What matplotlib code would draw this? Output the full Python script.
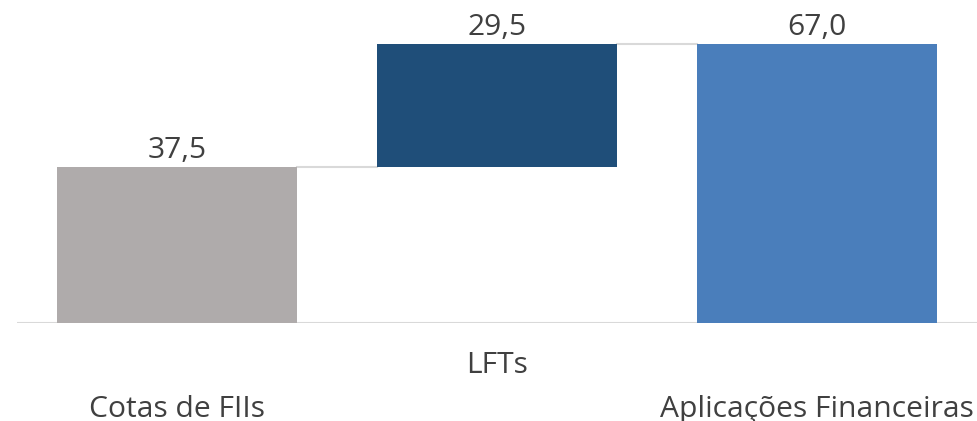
import numpy as np
import matplotlib
matplotlib.use("Agg")
import matplotlib.pyplot as plt

categories = ["Cotas de FIIs", "LFTs", "Aplicações Financeiras"]
values = [37.5, 29.5, 67.0]
is_total = [False, False, True]
colors = ["#AFABAB", "#1F4E79", "#4A7EBB"]

plt.rcParams["font.family"] = ["Open Sans", "DejaVu Sans"]
text_color = "#404040"
line_color = "#D9D9D9"
fs = 21.6

# waterfall bottoms
bottoms = []
running = 0.0
for v, tot in zip(values, is_total):
    if tot:
        bottoms.append(0.0)
        running = v
    else:
        bottoms.append(running)
        running += v
tops = [b + v for b, v in zip(bottoms, values)]

fig = plt.figure(figsize=(9.77, 4.21), dpi=100)
ax = fig.add_axes([0.0174, 0.2328, 0.9826, 0.7672])

x = np.arange(len(categories))
width = 0.75
ax.bar(x, values, bottom=bottoms, width=width, color=colors, zorder=3)

# connector lines
for i in range(len(values) - 1):
    ax.plot([x[i] + width / 2, x[i + 1] - width / 2], [tops[i], tops[i]],
            color=line_color, lw=1.5, zorder=2)

ax.axhline(0, color=line_color, lw=1.5, zorder=2)

for xi, t, v in zip(x, tops, values):
    ax.annotate(f"{v:.1f}".replace(".", ","), (xi, t), xytext=(0, 1.5),
                textcoords="offset points", ha="center", va="bottom",
                fontsize=fs, color=text_color)

ax.set_xlim(-0.5, 2.5)
ax.set_ylim(0, 77.6)
ax.set_yticks([])
ax.set_xticks(x)
ax.set_xticklabels(categories, fontsize=fs, color=text_color)
ax.tick_params(axis="x", length=0)
for i, tick in enumerate(ax.xaxis.get_major_ticks()):
    tick.set_pad(20.5 if i % 2 == 1 else 52)
for s in ax.spines.values():
    s.set_visible(False)

fig.savefig("out.png", dpi=100)
